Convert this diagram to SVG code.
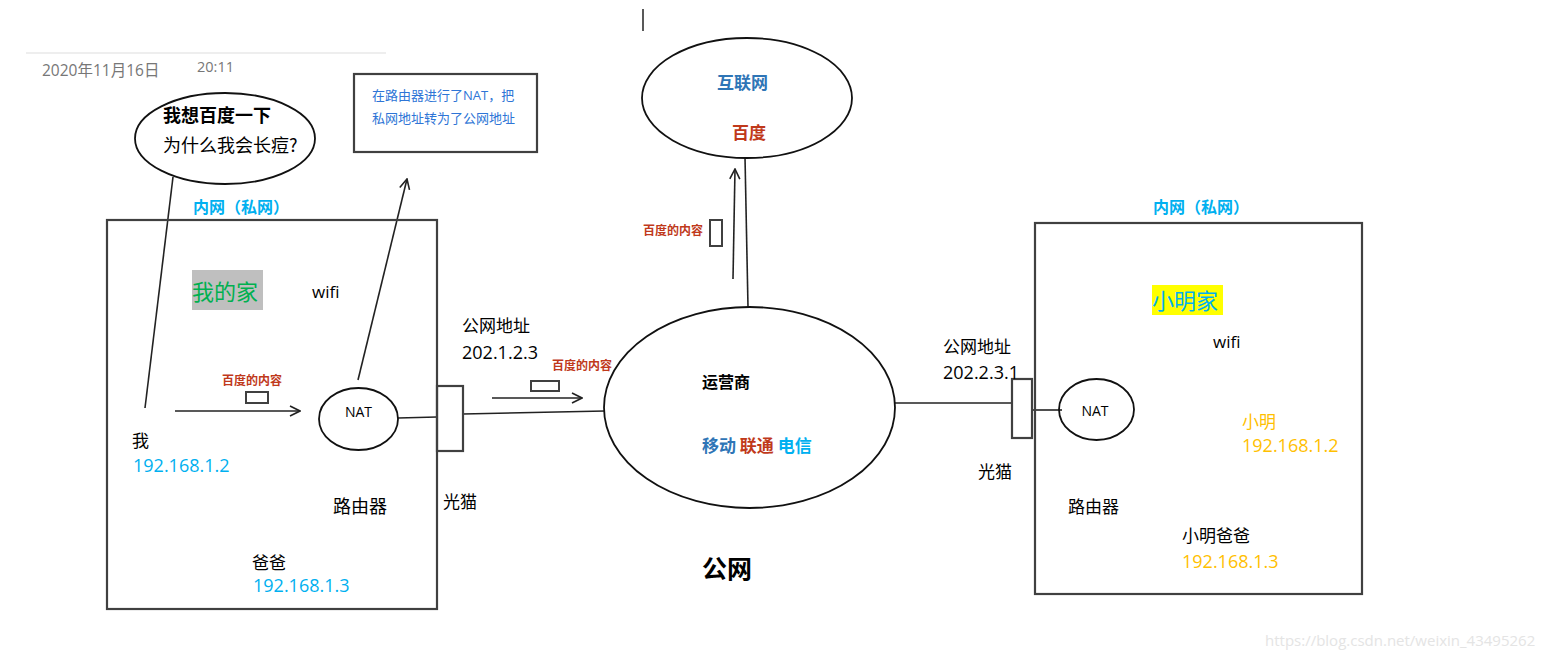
<svg xmlns="http://www.w3.org/2000/svg" width="1546" height="660" viewBox="0 0 1546 660">
<defs>
<marker id="arr" viewBox="0 0 12 12" refX="11" refY="6" markerWidth="12" markerHeight="12" markerUnits="userSpaceOnUse" orient="auto">
<path d="M1,1 L11,6 L1,11" fill="none" stroke="#222" stroke-width="1.6"/>
</marker>
<style>
text{font-family:"Open Sans","Noto Sans CJK SC",sans-serif;}
.cjk{font-family:"Noto Sans CJK SC",sans-serif;}
.b{font-weight:bold;}
.blk{fill:#000;}
.sky{fill:#00b0f0;}
.blue{fill:#2e75b6;}
.red{fill:#c0391b;}
.org{fill:#ffc000;}
.box{fill:none;stroke:#404040;stroke-width:2.2;}
.ell{fill:none;stroke:#111;stroke-width:1.8;}
.ln{stroke:#222;stroke-width:1.6;fill:none;}
.pkt{fill:#fff;stroke:#404040;stroke-width:2;}
</style>
</defs>
<rect width="1546" height="660" fill="#fff"/>

<g id="header">
<line x1="26" y1="53" x2="386" y2="53" stroke="#ddd" stroke-width="1"/>
<text x="42" y="76" font-size="15.5" fill="#777">2020年11月16日</text>
<text x="197" y="72" font-size="14.5" fill="#777">20:11</text>
<line x1="643" y1="9" x2="643" y2="31" stroke="#222" stroke-width="1.5"/>
</g>

<g id="connectors">
<line class="ln" x1="173" y1="177" x2="145" y2="408"/>
<line class="ln" x1="358" y1="380" x2="407" y2="179" marker-end="url(#arr)"/>
<line class="ln" x1="175" y1="411" x2="300" y2="411" marker-end="url(#arr)"/>
<line class="ln" x1="398" y1="418" x2="437" y2="417"/>
<line class="ln" x1="463" y1="414" x2="605" y2="411"/>
<line class="ln" x1="492" y1="398" x2="582" y2="398" marker-end="url(#arr)"/>
<line class="ln" x1="748" y1="307" x2="745" y2="157"/>
<line class="ln" x1="733" y1="279" x2="735" y2="169" marker-end="url(#arr)"/>
<line class="ln" x1="895" y1="403" x2="1012" y2="403"/>
<line class="ln" x1="1032" y1="410" x2="1062" y2="410"/>
</g>

<g id="bubble">
<ellipse class="ell" cx="225" cy="138.5" rx="90" ry="45.5" fill="#fff"/>
<text x="163" y="122" font-size="18" class="cjk b blk">我想百度一下</text>
<text x="163" y="152" font-size="18" class="cjk blk">为什么我会长痘?</text>
</g>

<g id="nat-note">
<rect class="box" x="354" y="74" width="183" height="78"/>
<text x="372" y="100" font-size="13" fill="#2e75d6">在路由器进行了NAT，把</text>
<text x="372" y="123" font-size="13" fill="#2e75d6">私网地址转为了公网地址</text>
</g>

<g id="internet">
<ellipse class="ell" cx="747" cy="98" rx="105" ry="60"/>
<text x="717" y="89" font-size="17" class="cjk b blue">互联网</text>
<text x="732" y="139" font-size="17" class="cjk b red">百度</text>
</g>

<g id="pkt-up">
<text x="643" y="235" font-size="12" class="cjk b red">百度的内容</text>
<rect class="pkt" x="710" y="220" width="12" height="26"/>
</g>

<g id="my-home">
<rect class="box" x="107" y="220" width="330" height="389"/>
<text x="193" y="213" font-size="16" class="cjk b sky">内网（私网）</text>
<rect x="192" y="270" width="71" height="40" fill="#bfbfbf"/>
<text x="192" y="300" font-size="22" class="cjk" fill="#00b050">我的家</text>
<text x="312" y="298" font-size="17" class="blk">wifi</text>
<text x="222" y="385" font-size="12" class="cjk b red">百度的内容</text>
<rect class="pkt" x="246" y="392" width="22" height="11"/>
<text x="132" y="447" font-size="17" class="cjk blk">我</text>
<text x="133" y="472" font-size="18" class="sky">192.168.1.2</text>
<text x="333" y="513" font-size="18" class="cjk blk">路由器</text>
<text x="252" y="569" font-size="17" class="cjk blk">爸爸</text>
<text x="253" y="592" font-size="18" class="sky">192.168.1.3</text>
</g>

<g id="nat-left">
<ellipse class="ell" cx="358.5" cy="419" rx="39.5" ry="31"/>
<text x="358.5" y="417" font-size="14" text-anchor="middle" class="blk">NAT</text>
</g>

<g id="modem-left">
<rect class="box" x="437" y="386" width="26" height="65" fill="#fff"/>
<text x="443" y="508" font-size="17" class="cjk blk">光猫</text>
<text x="462" y="332" font-size="17" class="cjk blk">公网地址</text>
<text x="462" y="359" font-size="18" class="blk">202.1.2.3</text>
</g>

<g id="pkt-mid">
<text x="552" y="370" font-size="12" class="cjk b red">百度的内容</text>
<rect class="pkt" x="531" y="381" width="28" height="10"/>
</g>

<g id="operator">
<ellipse class="ell" cx="749.5" cy="407.5" rx="145.5" ry="100.5"/>
<text x="702" y="388" font-size="16" class="cjk b blk">运营商</text>
<text x="702" y="452" font-size="17" class="cjk b"><tspan class="blue">移动</tspan> <tspan class="red">联通</tspan> <tspan class="sky">电信</tspan></text>
</g>

<g id="public-label">
<text x="702" y="578" font-size="25" class="cjk b blk">公网</text>
</g>

<g id="modem-right">
<rect class="box" x="1012" y="379" width="20" height="59" fill="#fff"/>
<text x="943" y="353" font-size="17" class="cjk blk">公网地址</text>
<text x="943" y="379" font-size="18" class="blk">202.2.3.1</text>
<text x="978" y="478" font-size="17" class="cjk blk">光猫</text>
</g>

<g id="xiaoming-home">
<rect class="box" x="1035" y="223" width="327" height="371"/>
<text x="1153" y="213" font-size="16" class="cjk b sky">内网（私网）</text>
<rect x="1152" y="285" width="71" height="30" fill="#ffff00"/>
<text x="1152" y="309" font-size="22" class="cjk sky">小明家</text>
<text x="1213" y="348" font-size="17" class="blk">wifi</text>
<text x="1242" y="428" font-size="17" class="cjk org">小明</text>
<text x="1242" y="452" font-size="18" class="org">192.168.1.2</text>
<text x="1068" y="513" font-size="17" class="cjk blk">路由器</text>
<text x="1182" y="542" font-size="17" class="cjk blk">小明爸爸</text>
<text x="1182" y="568" font-size="18" class="org">192.168.1.3</text>
</g>

<g id="nat-right">
<ellipse class="ell" cx="1096.5" cy="409.5" rx="37.5" ry="30.5" fill="#fff"/>
<text x="1095" y="416" font-size="14" text-anchor="middle" class="blk">NAT</text>
</g>

<g id="watermark">
<text x="1265" y="646" font-size="15" fill="#e4e4e4">https://blog.csdn.net/weixin_43495262</text>
</g>
</svg>
